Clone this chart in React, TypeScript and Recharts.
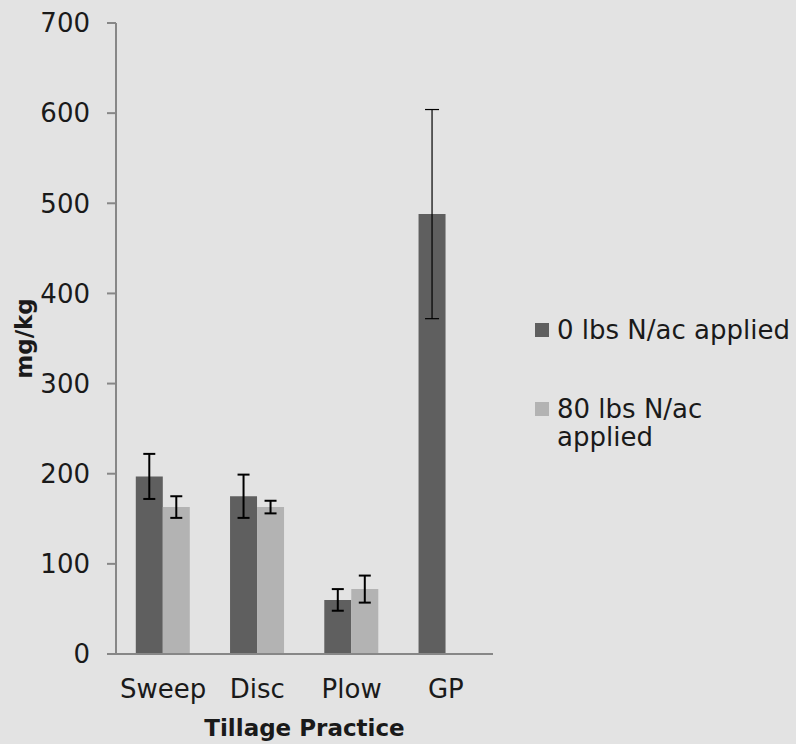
import { BarChart, Bar, XAxis, YAxis, ErrorBar, Legend } from 'recharts';

const categories = ['Sweep', 'Disc', 'Plow', 'GP'];
const noNitrogen = [197, 175, 60, 488];
const noNitrogenErr = [25, 24, 12, 116];
const withNitrogen = [163, 163, 72, null];
const withNitrogenErr = [12, 7, 15, null];
const yTicks = [0, 100, 200, 300, 400, 500, 600, 700];

const seriesNames = ['0 lbs N/ac applied', '80 lbs N/ac applied'];
const colors = ['#5f5f5f', '#b3b3b3'];

// GP's error bar is drawn with a thinner stroke in the original, so it gets its own key
const chartData = categories.map((name, i) => ({
  name,
  zero: noNitrogen[i],
  zeroErr: i < 3 ? noNitrogenErr[i] : null,
  zeroErrThin: i === 3 ? noNitrogenErr[i] : null,
  eighty: withNitrogen[i],
  eightyErr: withNitrogenErr[i],
}));

const axisColor = '#878787';
const font = "'DejaVu Sans', sans-serif";

const LegendContent = () => (
  <div style={{ fontFamily: font, fontSize: 26, color: '#1a1a1a' }}>
    {seriesNames.map((label, i) => (
      <div
        key={label}
        style={{ display: 'flex', alignItems: 'flex-start', marginBottom: i === 0 ? 51 : 0 }}
      >
        <div style={{ width: 14, height: 14, background: colors[i], marginTop: 7, marginRight: 8, flexShrink: 0 }} />
        <div style={{ width: 240, lineHeight: '28px', whiteSpace: i === 0 ? 'nowrap' : 'normal' }}>{label}</div>
      </div>
    ))}
  </div>
);

const App = () => {
  return (
    <div style={{ position: 'absolute', left: 0, top: 0, width: 796, height: 744, background: '#e3e3e3', fontFamily: font }}>
      <BarChart
        width={796}
        height={744}
        data={chartData}
        margin={{ top: 23, right: 41, left: 0, bottom: 0 }}
        barCategoryGap="21%"
        barGap={0}
      >
        <XAxis
          dataKey="name"
          height={90}
          tickLine={false}
          axisLine={{ stroke: axisColor, strokeWidth: 2 }}
          tick={{ fill: '#1a1a1a', fontSize: 26, fontFamily: font }}
          tickMargin={20}
          label={{ value: 'Tillage Practice', position: 'insideBottom', offset: 8, fill: '#1a1a1a', fontSize: 23, fontWeight: 'bold', fontFamily: font }}
        />
        <YAxis
          width={116}
          domain={[0, 700]}
          ticks={yTicks}
          interval={0}
          tickSize={9}
          tickMargin={17}
          axisLine={{ stroke: axisColor, strokeWidth: 2 }}
          tickLine={{ stroke: axisColor, strokeWidth: 2 }}
          tick={{ fill: '#1a1a1a', fontSize: 26, fontFamily: font }}
          label={{ value: 'mg/kg', angle: -90, position: 'center', dx: -34, fill: '#1a1a1a', fontSize: 23, fontWeight: 'bold', fontFamily: font }}
        />
        <Legend
          layout="vertical"
          align="right"
          verticalAlign="middle"
          content={<LegendContent />}
          wrapperStyle={{ left: 535, top: 316, width: 262 }}
        />
        <Bar dataKey="zero" name={seriesNames[0]} fill={colors[0]} isAnimationActive={false}>
          <ErrorBar dataKey="zeroErr" width={6} strokeWidth={2} stroke="#000" />
          <ErrorBar dataKey="zeroErrThin" width={7} strokeWidth={1.2} stroke="#000" />
        </Bar>
        <Bar dataKey="eighty" name={seriesNames[1]} fill={colors[1]} isAnimationActive={false}>
          <ErrorBar dataKey="eightyErr" width={6} strokeWidth={2} stroke="#000" />
        </Bar>
      </BarChart>
    </div>
  );
};

export default App;
